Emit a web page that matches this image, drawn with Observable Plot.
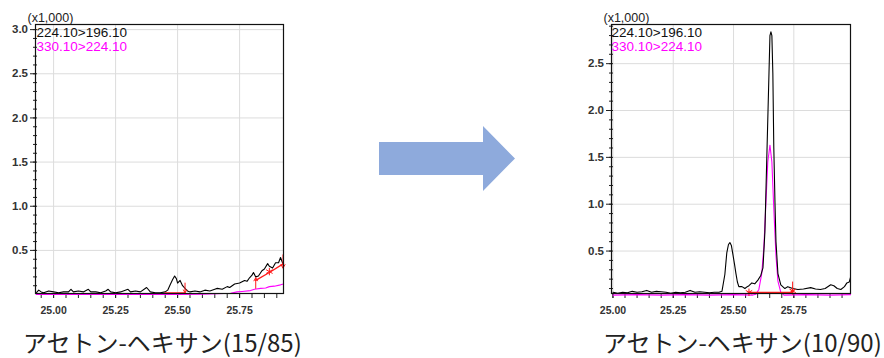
<!DOCTYPE html>
<html><head><meta charset="utf-8">
<script src="https://cdn.jsdelivr.net/npm/d3@7"></script>
<script src="https://cdn.jsdelivr.net/npm/@observablehq/plot@0.6"></script>
<style>
body{margin:0;background:#fff;}
#wrap{position:relative;width:884px;height:358px;overflow:hidden;background:#fff;}
.panel{position:absolute;top:0;}
.panel text{font-family:"Liberation Sans", Arial, sans-serif;}
.panel [aria-label$="tick label"], .panel [aria-label$="tick label"] text{font-weight:bold;}
.cap{position:absolute;font-family:"Noto Sans CJK JP";font-size:24px;color:#222;white-space:nowrap;line-height:1.45;}
</style></head><body>
<div id="wrap"></div>
<script>
// ---------- data ----------
const seriesNames = ["224.10>196.10", "330.10>224.10"];
const captions = ["アセトン-ヘキサン(15/85)", "アセトン-ヘキサン(10/90)"];
const scaleLabel = "(x1,000)";
const xTickLabels = [25.00, 25.25, 25.50, 25.75];

// Left panel (15/85)
const leftBlackT = [24.93,24.94,24.95,24.96,24.98,25.00,25.02,25.04,25.06,25.07,25.08,25.10,25.12,25.14,25.15,25.17,25.19,25.21,25.22,25.23,25.25,25.27,25.30,25.31,25.33,25.35,25.375,25.39,25.41,25.43,25.45,25.46,25.47,25.48,25.488,25.495,25.50,25.51,25.52,25.53,25.54,25.55,25.57,25.59,25.61,25.63,25.65,25.66,25.68,25.70,25.71,25.73,25.75,25.77,25.78,25.79,25.80,25.806,25.815,25.826,25.84,25.85,25.863,25.87,25.883,25.895,25.907,25.915,25.927];
const leftBlackV = [0.02,0.05,0.03,0.02,0.04,0.03,0.02,0.03,0.03,0.06,0.03,0.04,0.03,0.06,0.03,0.03,0.02,0.04,0.06,0.03,0.02,0.03,0.06,0.03,0.04,0.03,0.08,0.03,0.02,0.02,0.03,0.05,0.11,0.17,0.21,0.18,0.13,0.16,0.10,0.07,0.04,0.03,0.04,0.03,0.05,0.04,0.06,0.07,0.06,0.09,0.08,0.12,0.13,0.16,0.15,0.19,0.22,0.25,0.20,0.21,0.27,0.29,0.35,0.32,0.30,0.36,0.36,0.42,0.33];
const leftMagT = [24.93,25.00,25.10,25.20,25.30,25.40,25.50,25.60,25.66,25.714,25.74,25.76,25.794,25.81,25.835,25.855,25.87,25.89,25.915,25.927];
const leftMagV = [0.00,0.005,0.00,0.005,0.00,0.005,0.00,0.005,0.01,0.015,0.03,0.035,0.045,0.06,0.07,0.075,0.09,0.095,0.11,0.12];
const leftRedT = [[25.45,25.53],[25.815,25.87,25.927]];
const leftRedV = [[0.02,0.02],[0.16,0.25,0.35]];
const leftArrowT = [25.53, 25.815, 25.925];
const leftArrowFrom = [0.13, 0.07, 0.45];
const leftArrowTo = [0.02, 0.19, 0.30];
const leftStarT = [25.87];
const leftStarV = [0.26];

// Right panel (10/90)
const rightBlackT = [25.00,25.02,25.04,25.06,25.08,25.10,25.12,25.14,25.16,25.18,25.20,25.22,25.24,25.26,25.28,25.30,25.32,25.34,25.36,25.38,25.40,25.42,25.44,25.452,25.464,25.472,25.479,25.485,25.491,25.497,25.504,25.510,25.516,25.522,25.535,25.547,25.557,25.564,25.576,25.588,25.601,25.613,25.622,25.630,25.638,25.647,25.651,25.655,25.659,25.663,25.667,25.672,25.676,25.684,25.696,25.713,25.725,25.745,25.767,25.79,25.82,25.84,25.86,25.88,25.903,25.916,25.93,25.945,25.96,25.97,25.98,25.985];
const rightBlackV = [0.06,0.05,0.06,0.055,0.07,0.06,0.065,0.08,0.06,0.07,0.065,0.06,0.05,0.06,0.055,0.06,0.08,0.06,0.065,0.06,0.055,0.06,0.06,0.07,0.25,0.48,0.57,0.59,0.56,0.47,0.36,0.26,0.17,0.12,0.12,0.10,0.12,0.13,0.16,0.15,0.19,0.24,0.32,0.70,1.50,2.40,2.80,2.84,2.80,2.40,1.60,1.00,0.60,0.26,0.14,0.10,0.12,0.10,0.09,0.095,0.11,0.095,0.09,0.10,0.14,0.13,0.10,0.09,0.12,0.16,0.17,0.22];
const rightMagT = [25.00,25.10,25.20,25.30,25.40,25.50,25.58,25.593,25.605,25.617,25.626,25.634,25.642,25.651,25.659,25.667,25.676,25.684,25.696,25.709,25.80,25.90,25.985];
const rightMagV = [0.03,0.035,0.03,0.035,0.03,0.035,0.03,0.04,0.09,0.26,0.55,1.00,1.45,1.63,1.45,0.95,0.45,0.18,0.06,0.03,0.035,0.03,0.035];
const rightRedT = [[25.564,25.745]];
const rightRedV = [[0.06,0.06]];
const rightArrowT = [25.745];
const rightArrowFrom = [0.17];
const rightArrowTo = [0.055];
const rightStarT = [25.564, 25.745];
const rightStarV = [0.06, 0.075];

// ---------- drawing ----------
const zip = (t, v) => t.map((x, i) => ({t: x, v: v[i]}));
const steps = (a, b, s) => d3.range(Math.round((b - a) / s) + 1).map(i => +(a + i * s).toFixed(3));
const FONT = '"Liberation Sans", Arial, sans-serif';

function panel(o) {
  const lines = o.redT.map((t, i) => zip(t, o.redV[i]));
  const arrows = o.arrowT.map((t, i) => ({t, a: o.arrowFrom[i], b: o.arrowTo[i]}));
  const stars = zip(o.starT, o.starV);
  return Plot.plot({
    width: 300, height: 320,
    marginLeft: o.mL, marginRight: o.mR, marginTop: 24, marginBottom: 27,
    x: {domain: o.xDomain, label: null},
    y: {domain: o.yDomain, label: null},
    style: {fontFamily: FONT, color: "#222", background: "transparent", overflow: "visible"},
    marks: [
      Plot.gridX(xTickLabels, {stroke: "#dcdcdc", strokeOpacity: 1}),
      Plot.gridY(o.yMajor, {stroke: "#dcdcdc", strokeOpacity: 1}),
      Plot.axisX({ticks: o.xMinor, tickSize: 5, text: null, stroke: "#222"}),
      Plot.axisX({ticks: xTickLabels, tickSize: 5, tickPadding: 8, tickFormat: d => d.toFixed(2), fontSize: 10.5, fontWeight: 700, fontFamily: FONT, fill: "#333"}),
      Plot.axisY({ticks: o.yMinor, tickSize: 4, dx: 2, text: null, stroke: "#222"}),
      Plot.axisY({ticks: o.yMajor, tickSize: 5, tickPadding: 2.5, tickFormat: d => d.toFixed(1), fontSize: 11.5, fontWeight: 700, fontFamily: FONT, fill: "#333"}),
      Plot.line(zip(o.magT, o.magV), {x: "t", y: "v", stroke: "#ff00ff", strokeWidth: 1.1}),
      Plot.line(zip(o.blackT, o.blackV), {x: "t", y: "v", stroke: "#000", strokeWidth: 1.1}),
      ...lines.map(l => Plot.line(l, {x: "t", y: "v", stroke: "#ff1a1a", strokeWidth: 1.3})),
      Plot.arrow(arrows, {x: "t", y1: "a", y2: "b", stroke: "#ff1a1a", headLength: 6, strokeWidth: 1}),
      Plot.dot(stars, {x: "t", y: "v", symbol: "asterisk", r: 3.5, stroke: "#ff1a1a", strokeWidth: 1}),
      Plot.frame({stroke: "#111", strokeWidth: 1.2}),
      Plot.text([scaleLabel], {frameAnchor: "top-left", text: d => d, dx: -8, dy: -7, lineAnchor: "middle", textAnchor: "start", fontSize: 12.5, fontFamily: FONT, fill: "#222"}),
      Plot.text([seriesNames[0]], {frameAnchor: "top-left", text: d => d, dx: o.labelDx, dy: 3, lineAnchor: "top", textAnchor: "start", fontSize: 13.5, fontFamily: FONT, fill: "#111"}),
      Plot.text([seriesNames[1]], {frameAnchor: "top-left", text: d => d, dx: o.labelDx, dy: 17, lineAnchor: "top", textAnchor: "start", fontSize: 13.5, fontFamily: FONT, fill: "#ff00ff"})
    ]
  });
}

const wrap = document.getElementById("wrap");

const left = panel({
  xDomain: [24.927, 25.927], yDomain: [0.012, 3.058], mL: 35, mR: 17, labelDx: 1,
  xMinor: steps(24.95, 25.90, 0.05),
  yMajor: [0.5, 1.0, 1.5, 2.0, 2.5, 3.0], yMinor: steps(0.1, 3.0, 0.1),
  blackT: leftBlackT, blackV: leftBlackV, magT: leftMagT, magV: leftMagV,
  redT: leftRedT, redV: leftRedV, arrowT: leftArrowT, arrowFrom: leftArrowFrom, arrowTo: leftArrowTo,
  starT: leftStarT, starV: leftStarV
});
left.classList.add("panel"); left.style.left = "0px";
wrap.appendChild(left);

const right = panel({
  xDomain: [24.994, 25.985], yDomain: [0.047, 2.918], mL: 31, mR: 30, labelDx: 0,
  xMinor: steps(25.00, 25.95, 0.05),
  yMajor: [0.5, 1.0, 1.5, 2.0, 2.5], yMinor: steps(0.1, 2.9, 0.1),
  blackT: rightBlackT, blackV: rightBlackV, magT: rightMagT, magV: rightMagV,
  redT: rightRedT, redV: rightRedV, arrowT: rightArrowT, arrowFrom: rightArrowFrom, arrowTo: rightArrowTo,
  starT: rightStarT, starV: rightStarV
});
right.classList.add("panel"); right.style.left = "580px";
wrap.appendChild(right);

// block arrow between the panels
const ns = "http://www.w3.org/2000/svg";
const arr = document.createElementNS(ns, "svg");
arr.setAttribute("width", 884); arr.setAttribute("height", 358);
arr.style.position = "absolute"; arr.style.left = "0"; arr.style.top = "0"; arr.style.pointerEvents = "none";
const poly = document.createElementNS(ns, "polygon");
poly.setAttribute("points", "379,142 483,142 483,126 515,158.5 483,191 483,175 379,175");
poly.setAttribute("fill", "#8eaadc");
arr.appendChild(poly);
wrap.appendChild(arr);

// captions
[[23, captions[0]], [603, captions[1]]].forEach(([x, s]) => {
  const d = document.createElement("div");
  d.className = "cap"; d.style.left = x + "px"; d.style.top = "325px"; d.textContent = s;
  wrap.appendChild(d);
});
</script>
</body></html>
